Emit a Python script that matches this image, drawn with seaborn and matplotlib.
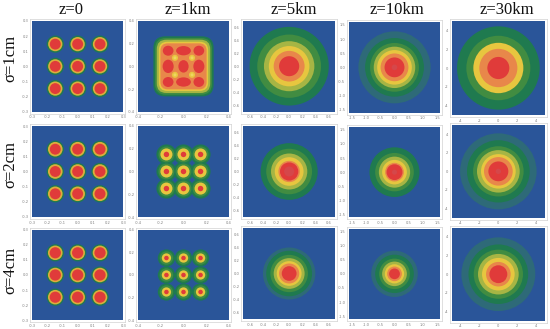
import matplotlib
matplotlib.use("Agg")
import matplotlib.pyplot as plt
import seaborn as sns
from matplotlib.patches import Circle, Ellipse, FancyBboxPatch, Rectangle

# ---------- text ----------
column_titles = ["z=0", "z=1km", "z=5km", "z=10km", "z=30km"]
row_titles = ["σ=1cm", "σ=2cm", "σ=4cm"]

# ---------- axis scales per column ----------
half_range = [0.3, 0.4, 0.7, 1.6, 5.0]
tick_values = [
    [-0.3, -0.2, -0.1, 0.0, 0.1, 0.2, 0.3],
    [-0.4, -0.2, 0.0, 0.2, 0.4],
    [-0.6, -0.4, -0.2, 0.0, 0.2, 0.4, 0.6],
    [-1.5, -1.0, -0.5, 0.0, 0.5, 1.0, 1.5],
    [-4, -2, 0, 2, 4],
]
tick_formats = ["{:.1f}", "{:.1f}", "{:.1f}", "{:.1f}", "{:.0f}"]

# ---------- contour band colours (outermost to innermost) ----------
blue = "#2A5599"
band_hex = ["#2E6A78", "#1F7A4F", "#418C41", "#A6B544", "#E7C63F",
            "#E8874A", "#E03B3A", "#D5474A"]
band_palette = sns.color_palette(band_hex)
z0_ring_hex = "#DCAE3C"

# ---------- band radii per panel; None = band absent ----------
spot_centres_z0 = [-0.147, 0.0, 0.147]
spot_centres_z1 = [-0.15, 0.0, 0.15]
r_z0_s1 = [None, 0.057, None, None, 0.047, None, 0.036, None]
r_z0_s2 = [None, 0.057, None, None, 0.048, None, 0.036, None]
r_z0_s4 = [None, 0.057, None, None, 0.048, None, 0.037, None]
r_z1_s2 = [None, 0.088, 0.070, None, 0.053, None, 0.024, None]
r_z1_s4 = [None, 0.076, 0.059, None, 0.041, None, 0.020, None]

r_z5_s1 = [None, 0.605, 0.487, 0.385, 0.310, 0.236, 0.154, None]
r_z5_s2 = [None, 0.436, 0.350, 0.277, 0.220, 0.164, 0.140, 0.077]
r_z5_s4 = [0.400, 0.350, 0.287, 0.236, 0.190, 0.154, 0.113, None]
r_z10_s1 = [1.27, 1.035, 0.86, 0.73, 0.61, 0.49, 0.35, 0.10]
r_z10_s2 = [None, 0.88, 0.68, 0.55, 0.435, 0.33, 0.28, 0.09]
r_z10_s4 = [0.82, 0.68, 0.54, 0.435, 0.34, 0.26, 0.19, None]
r_z30_s1 = [None, 4.43, 3.43, None, 2.68, 2.04, 1.18, None]
r_z30_s2 = [4.10, 3.36, 2.71, 2.29, 1.86, 1.54, 1.07, 0.29]
r_z30_s4 = [3.96, 3.20, 2.64, 2.18, 1.75, 1.32, 0.96, None]

# z=1km, sigma=1cm: merged plateau
plateau_half = [None, 0.265, 0.250, 0.235, 0.217, 0.203]
plateau_corner = [None, 0.105, 0.095, 0.085, 0.075, 0.065]
red_lobe_x = [-0.135, 0.0, 0.135]
red_lobe_y = [0.138, 0.0, -0.138]
red_lobe_w = [[0.094, 0.130, 0.094], [0.097, 0.090, 0.097], [0.094, 0.130, 0.094]]
red_lobe_h = [[0.088, 0.082, 0.088], [0.118, 0.110, 0.118], [0.088, 0.082, 0.088]]
hot_gap_xy = [-0.075, 0.075]
gap_radius = [0.027, 0.013]

# ---------- panel placement, pixels ----------
col_px = [(32, 123.3), (138, 229), (243.3, 335), (349, 440), (451.7, 545)]
row_px = [
    [(21, 111.7), (21, 111.7), (20.7, 111.7), (22, 112.7), (21, 115)],
    [(126, 217), (126, 217), (126, 217), (127, 217.3), (125, 217.7)],
    [(229.7, 320.3), (229.7, 320.3), (228, 319), (228.7, 319), (227.7, 320.7)],
]
title_x_px = [71, 188, 294, 397, 507]
row_label_y_px = [58, 165, 270]

sns.set_theme(style="white")
plt.rcParams["font.family"] = ["Liberation Serif", "DejaVu Serif"]
W, H = 550, 329
fig = plt.figure(figsize=(W / 100, H / 100), dpi=100, facecolor="white")
pad = 2.0


def add_spots(ax, radii, centres, yellow=None):
    for level, r in enumerate(radii):
        if r is None:
            continue
        colour = yellow if (level == 4 and yellow) else band_palette[level]
        for cx in centres:
            for cy in centres:
                ax.add_patch(Circle((cx, cy), r, fc=colour, ec="none"))


def add_rings(ax, radii):
    for level, r in enumerate(radii):
        if r is None:
            continue
        ax.add_patch(Circle((0, 0), r, fc=band_palette[level], ec="none"))


def add_plateau(ax):
    for level, (h, c) in enumerate(zip(plateau_half, plateau_corner)):
        if h is None:
            continue
        s = h - c
        ax.add_patch(FancyBboxPatch((-s, -s), 2 * s, 2 * s,
                                    boxstyle=f"round,pad={c},rounding_size={c}",
                                    fc=band_palette[level], ec="none"))
    for j, y in enumerate(red_lobe_y):
        for i, x in enumerate(red_lobe_x):
            ax.add_patch(Ellipse((x, y), red_lobe_w[j][i], red_lobe_h[j][i],
                                 fc=band_palette[6], ec="none"))
    for x in hot_gap_xy:
        for y in hot_gap_xy:
            ax.add_patch(Circle((x, y), gap_radius[0], fc=band_palette[4], ec="none"))
            ax.add_patch(Circle((x, y), gap_radius[1], fc="#EFD563", ec="none"))


panels = [
    [lambda a: add_spots(a, r_z0_s1, spot_centres_z0, z0_ring_hex), add_plateau,
     lambda a: add_rings(a, r_z5_s1), lambda a: add_rings(a, r_z10_s1),
     lambda a: add_rings(a, r_z30_s1)],
    [lambda a: add_spots(a, r_z0_s2, spot_centres_z0, z0_ring_hex),
     lambda a: add_spots(a, r_z1_s2, spot_centres_z1),
     lambda a: add_rings(a, r_z5_s2), lambda a: add_rings(a, r_z10_s2),
     lambda a: add_rings(a, r_z30_s2)],
    [lambda a: add_spots(a, r_z0_s4, spot_centres_z0, z0_ring_hex),
     lambda a: add_spots(a, r_z1_s4, spot_centres_z1),
     lambda a: add_rings(a, r_z5_s4), lambda a: add_rings(a, r_z10_s4),
     lambda a: add_rings(a, r_z30_s4)],
]

for r in range(3):
    for c in range(5):
        x0, x1 = col_px[c]
        y0, y1 = row_px[r][c]
        ax = fig.add_axes([(x0 - pad) / W, 1 - (y1 + pad) / H,
                           (x1 - x0 + 2 * pad) / W, (y1 - y0 + 2 * pad) / H])
        lim = half_range[c]
        mx = lim * pad / ((x1 - x0) / 2)
        my = lim * pad / ((y1 - y0) / 2)
        ax.set_xlim(-lim - mx, lim + mx)
        ax.set_ylim(-lim - my, lim + my)
        ax.set_facecolor("white")
        ax.add_patch(Rectangle((-lim, -lim), 2 * lim, 2 * lim, fc=blue, ec="none"))
        panels[r][c](ax)
        ax.set_xticks(tick_values[c])
        ax.set_yticks(tick_values[c])
        labels = [tick_formats[c].format(v) for v in tick_values[c]]
        ax.set_xticklabels(labels)
        ax.set_yticklabels(labels)
        ax.tick_params(axis="both", direction="in", length=1.2, width=0.3,
                       color="#B5B5B5", labelsize=2.6, labelcolor="#7F7F7F", pad=1.2)
        for lab in ax.get_xticklabels() + ax.get_yticklabels():
            lab.set_family("DejaVu Sans")
        for s in ax.spines.values():
            s.set_color("#D2D2D2")
            s.set_linewidth(0.5)

for x, t in zip(title_x_px, column_titles):
    fig.text(x / W, 1 - 10 / H, t, ha="center", va="center", fontsize=12, color="#111111")
for y, t in zip(row_label_y_px, row_titles):
    fig.text(10 / W, 1 - y / H, t, ha="center", va="center", rotation=90,
             fontsize=12, color="#111111")

fig.savefig("out.png", dpi=100)
